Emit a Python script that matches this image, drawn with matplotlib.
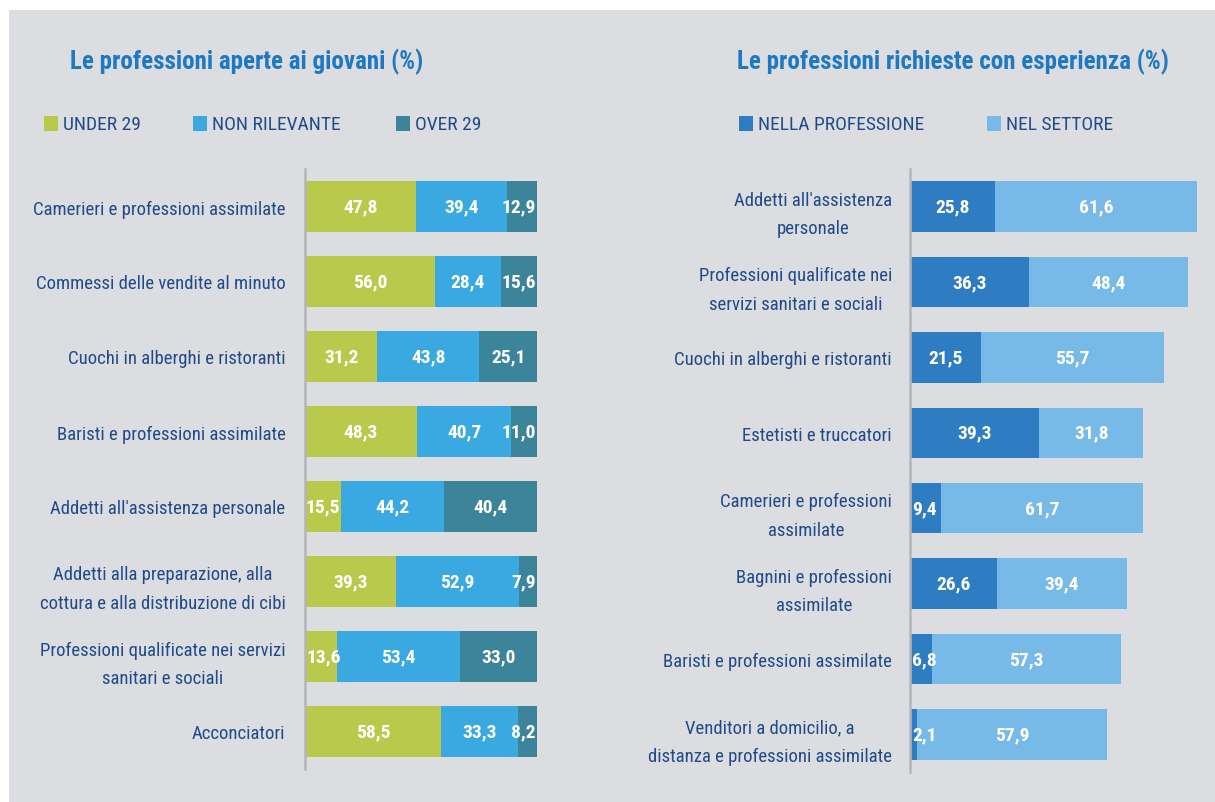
import matplotlib
matplotlib.use("Agg")
import matplotlib.pyplot as plt
from matplotlib.patches import Rectangle
import numpy as np

plt.rcParams['font.family'] = ['Roboto Condensed', 'DejaVu Sans']

# left chart: professions open to young people
giovani_labels = [
    "Camerieri e professioni assimilate",
    "Commessi delle vendite al minuto",
    "Cuochi in alberghi e ristoranti",
    "Baristi e professioni assimilate",
    "Addetti all'assistenza personale",
    "Addetti alla preparazione, alla\ncottura e alla distribuzione di cibi",
    "Professioni qualificate nei servizi\nsanitari e sociali",
    "Acconciatori",
]
under29 = [47.8, 56.0, 31.2, 48.3, 15.5, 39.3, 13.6, 58.5]
non_rilevante = [39.4, 28.4, 43.8, 40.7, 44.2, 52.9, 53.4, 33.3]
over29 = [12.9, 15.6, 25.1, 11.0, 40.4, 7.9, 33.0, 8.2]

# right chart: professions requiring experience
esperienza_labels = [
    "Addetti all'assistenza\npersonale",
    "Professioni qualificate nei\nservizi sanitari e sociali",
    "Cuochi in alberghi e ristoranti",
    "Estetisti e truccatori",
    "Camerieri e professioni\nassimilate",
    "Bagnini e professioni\nassimilate",
    "Baristi e professioni assimilate",
    "Venditori a domicilio, a\ndistanza e professioni assimilate",
]
nella_professione = [25.8, 36.3, 21.5, 39.3, 9.4, 26.6, 6.8, 2.1]
nel_settore = [61.6, 48.4, 55.7, 31.8, 61.7, 39.4, 57.3, 57.9]

BG = "#dcdde0"
TITLE = "#1e78c2"
LABEL = "#1f4b8a"
AXLINE = "#b4b5b8"

W, H = 1215, 803
fig = plt.figure(figsize=(W / 100, H / 100), dpi=100)
fig.patch.set_facecolor("white")
fig.patches.append(Rectangle((9 / W, 0), 1 - 9 / W, 1 - 11 / H, transform=fig.transFigure,
                             facecolor=BG, edgecolor="none", zorder=-10))


def fmt(v):
    return f"{v:.1f}".replace(".", ",")


def stacked(ax, labels, series, colors, xmax, ppu, pad):
    # ppu: pixels per data unit, used to keep narrow-segment labels inside the bar
    hw = 16 / ppu
    nudge = 2 / ppu
    y = np.arange(len(labels))
    left = np.zeros(len(labels))
    for vals, col in zip(series, colors):
        vals = np.array(vals)
        ax.barh(y, vals, left=left, height=0.67, color=col, edgecolor="none")
        for yi, l, v in zip(y, left, vals):
            x, ha = l + v / 2, "center"
            if x < hw:
                x, ha = l + nudge, "left"
            elif l + v > 99.9 and x > 100 - hw:
                x, ha = 100 - nudge / 2, "right"
            ax.text(x, yi, fmt(v), ha=ha, va="center", color="white",
                    fontsize=14, fontweight="bold")
        left = left + vals
    ax.set_xlim(0, xmax)
    ax.set_ylim(len(labels) - 0.5, -0.5)
    ax.set_facecolor("none")
    for s in ["top", "right", "bottom"]:
        ax.spines[s].set_visible(False)
    ax.spines["left"].set_color(AXLINE)
    ax.spines["left"].set_linewidth(1.8)
    ax.set_xticks([])
    ax.set_yticks(y)
    ax.set_yticklabels(labels, fontsize=13.5, color=LABEL, multialignment="center",
                       linespacing=1.75)
    ax.tick_params(axis="y", length=0, pad=pad)


# left panel
ax1 = fig.add_axes([305 / W, (H - 770) / H, 232 / W, 600 / H])
stacked(ax1, giovani_labels, [under29, non_rilevante, over29],
        ["#b8c94b", "#3aa9e1", "#3b8499"], 100, 2.32, 14)

# right panel
ax2 = fig.add_axes([910 / W, (H - 773) / H, 305 / W, 603 / H])
stacked(ax2, esperienza_labels, [nella_professione, nel_settore],
        ["#2e7dc2", "#78bae7"], 305 / 3.284, 3.284, 13)

# titles
fig.text(70 / W, 1 - 62 / H, "Le professioni aperte ai giovani (%)", color=TITLE,
         fontsize=18, fontweight="bold", va="center", ha="left")
fig.text(737 / W, 1 - 62 / H, "Le professioni richieste con esperienza (%)", color=TITLE,
         fontsize=18, fontweight="bold", va="center", ha="left")

# legends
legend_items = [
    (44, "UNDER 29", "#b8c94b"),
    (193, "NON RILEVANTE", "#3aa9e1"),
    (396, "OVER 29", "#3b8499"),
    (739, "NELLA PROFESSIONE", "#2e7dc2"),
    (987, "NEL SETTORE", "#78bae7"),
]
for x, txt, col in legend_items:
    fig.patches.append(Rectangle((x / W, 1 - 132 / H), 14 / W, 15 / H,
                                 transform=fig.transFigure, facecolor=col, edgecolor="none"))
    fig.text((x + 19) / W, 1 - 125 / H, txt, color=LABEL, fontsize=14,
             va="center", ha="left")

fig.savefig("out.png", dpi=100, facecolor=fig.get_facecolor())
